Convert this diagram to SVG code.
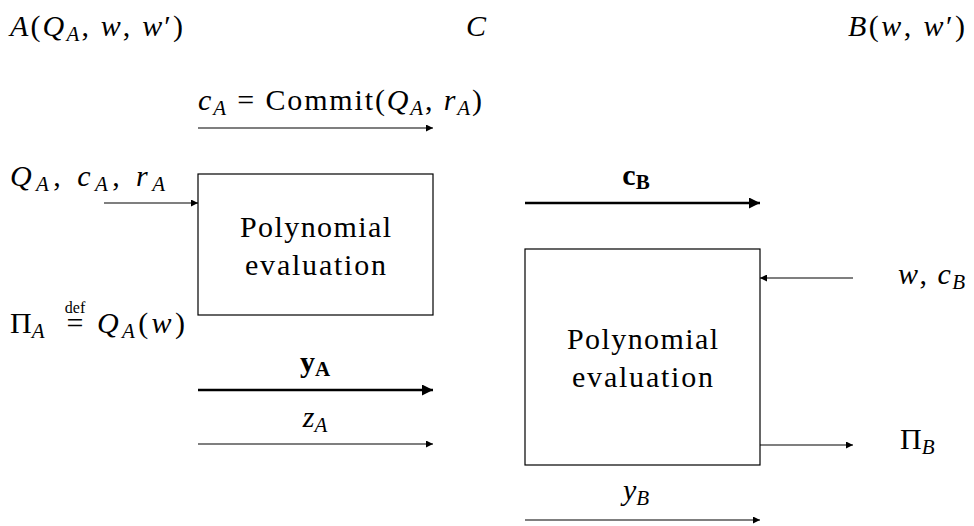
<svg xmlns="http://www.w3.org/2000/svg" width="974" height="526" viewBox="0 0 974 526">
<defs>
<style>
text{font-family:"Liberation Serif","DejaVu Serif",serif;font-size:30px;fill:#000}
.i{font-style:italic}
.s{font-size:21px}
.b{font-weight:bold}
.t{stroke:#000;stroke-width:1.2;fill:none}
.k{stroke:#000;stroke-width:2.6;fill:none}
.box{fill:#fff;stroke:#000;stroke-width:1.2}
</style>
<marker id="ah" viewBox="0 0 10 10" refX="10" refY="5" markerWidth="10" markerHeight="7" markerUnits="userSpaceOnUse" orient="auto"><path d="M0,0 L10,5 L0,10 Z" fill="#000"/></marker>
<marker id="ahb" viewBox="0 0 10 10" refX="10" refY="5" markerWidth="16" markerHeight="11" markerUnits="userSpaceOnUse" orient="auto"><path d="M0,0 L10,5 L0,10 Z" fill="#000"/></marker>
</defs>
<rect width="974" height="526" fill="#fff"/>

<g id="labels">
<text x="10" y="36" textLength="173" lengthAdjust="spacing"><tspan class="i">A</tspan>(<tspan class="i">Q</tspan><tspan class="i s" dy="5">A</tspan><tspan dy="-5">, </tspan><tspan class="i">w</tspan>, <tspan class="i">w</tspan>′)</text>
<text x="466" y="36" class="i">C</text>
<text x="848" y="36" textLength="117" lengthAdjust="spacing"><tspan class="i">B</tspan>(<tspan class="i">w</tspan>, <tspan class="i">w</tspan>′)</text>
<text x="10" y="186" textLength="155" lengthAdjust="spacing"><tspan class="i">Q</tspan><tspan class="i s" dy="5">A</tspan><tspan dy="-5">, </tspan><tspan class="i">c</tspan><tspan class="i s" dy="5">A</tspan><tspan dy="-5">, </tspan><tspan class="i">r</tspan><tspan class="i s" dy="5">A</tspan></text>
<text x="10" y="333">Π<tspan class="i s" dy="5">A</tspan></text>
<text x="75" y="333" text-anchor="middle">=</text>
<text x="75" y="313" text-anchor="middle" style="font-size:16px">def</text>
<text x="97" y="333" textLength="88" lengthAdjust="spacing"><tspan class="i">Q</tspan><tspan class="i s" dy="5">A</tspan><tspan dy="-5">(</tspan><tspan class="i">w</tspan>)</text>
<text x="898" y="284" textLength="67" lengthAdjust="spacing"><tspan class="i">w</tspan>, <tspan class="i">c</tspan><tspan class="i s" dy="5">B</tspan></text>
<text x="900" y="449">Π<tspan class="i s" dy="5">B</tspan></text>
</g>

<g id="node-A">
<rect class="box" x="198" y="174" width="235" height="141"/>
<text x="240" y="237" textLength="151" lengthAdjust="spacing">Polynomial</text>
<text x="245" y="275" textLength="141" lengthAdjust="spacing">evaluation</text>
</g>

<g id="node-B">
<rect class="box" x="525" y="249" width="235" height="216"/>
<text x="567" y="349" textLength="151" lengthAdjust="spacing">Polynomial</text>
<text x="572" y="387" textLength="141" lengthAdjust="spacing">evaluation</text>
</g>

<g id="connectors">
<line class="t" x1="198" y1="128" x2="433" y2="128" marker-end="url(#ah)"/>
<text x="198" y="110" textLength="284" lengthAdjust="spacing"><tspan class="i">c</tspan><tspan class="i s" dy="5">A</tspan><tspan dy="-5"> = Commit(</tspan><tspan class="i">Q</tspan><tspan class="i s" dy="5">A</tspan><tspan dy="-5">, </tspan><tspan class="i">r</tspan><tspan class="i s" dy="5">A</tspan><tspan dy="-5">)</tspan></text>
<line class="t" x1="104" y1="203" x2="198" y2="203" marker-end="url(#ah)"/>
<line class="k" x1="198" y1="390" x2="433" y2="390" marker-end="url(#ahb)"/>
<text x="315" y="372" text-anchor="middle" class="b">y<tspan class="s b" dy="4">A</tspan></text>
<line class="t" x1="198" y1="444" x2="433" y2="444" marker-end="url(#ah)"/>
<text x="315" y="427" text-anchor="middle"><tspan class="i">z</tspan><tspan class="i s" dy="5">A</tspan></text>
<line class="k" x1="525" y1="203" x2="760" y2="203" marker-end="url(#ahb)"/>
<text x="636" y="185" text-anchor="middle" class="b">c<tspan class="s b" dy="4">B</tspan></text>
<line class="t" x1="853" y1="278" x2="760" y2="278" marker-end="url(#ah)"/>
<line class="t" x1="760" y1="445" x2="853" y2="445" marker-end="url(#ah)"/>
<line class="t" x1="525" y1="520" x2="760" y2="520" marker-end="url(#ah)"/>
<text x="636" y="500" text-anchor="middle"><tspan class="i">y</tspan><tspan class="i s" dy="5">B</tspan></text>
</g>
</svg>
